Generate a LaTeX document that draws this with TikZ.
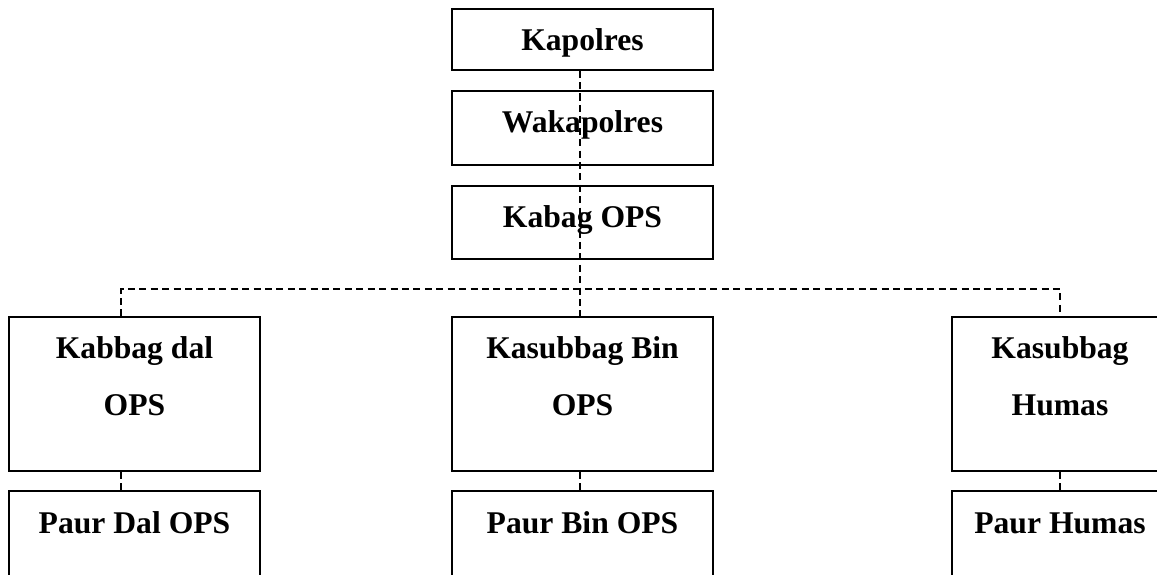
\documentclass[tikz,border=0pt]{standalone}
\usepackage{fontspec}
\setmainfont{Liberation Serif}

\begin{document}
\begin{tikzpicture}[x=0.02cm,y=-0.02cm,
    unitbox/.style={draw,line width=0.75pt,inner sep=0pt},
    lbl/.style={font=\fontsize{18}{32.4}\selectfont\bfseries,align=center,anchor=base,inner sep=0pt},
    link/.style={line width=0.75pt,dash pattern=on 4pt off 2.5pt}]
    \useasboundingbox (0,0) rectangle (1157,575);
    \clip (0,0) rectangle (1157,575);

    % pimpinan
    \node[unitbox,minimum width=5.22cm,minimum height=1.22cm] (kapolres) at (582.5,39.5) {};
    \node[unitbox,minimum width=5.22cm,minimum height=1.48cm] (waka) at (582.5,128) {};
    \node[unitbox,minimum width=5.22cm,minimum height=1.46cm] (kabag) at (582.5,222.5) {};

    % kasubbag
    \node[unitbox,minimum width=5.02cm,minimum height=3.08cm] (kabbag) at (134.5,394) {};
    \node[unitbox,minimum width=5.22cm,minimum height=3.08cm] (kasbin) at (582.5,394) {};
    \node[unitbox,minimum width=4.32cm,minimum height=3.08cm] (kashumas) at (1060,394) {};

    % paur
    \node[unitbox,minimum width=5.02cm,minimum height=2.4cm] (paurdal) at (134.5,551) {};
    \node[unitbox,minimum width=5.22cm,minimum height=2.4cm] (paurbin) at (582.5,551) {};
    \node[unitbox,minimum width=4.32cm,minimum height=2.4cm] (paurhumas) at (1060,551) {};

    % jalur komando
    \coordinate (hub) at (580,289);
    \coordinate (tapL) at (121,289);
    \coordinate (tapR) at (1060,289);
    \draw[link] (kapolres.south -| hub) -- (kasbin.north -| hub);
    \draw[link] (kabbag.north -| tapL) -- (tapL) -- (tapR) -- (kashumas.north -| tapR);
    \draw[link] (kabbag.south -| tapL) -- (paurdal.north -| tapL);
    \draw[link] (kasbin.south -| hub) -- (paurbin.north -| hub);
    \draw[link] (kashumas.south -| tapR) -- (paurhumas.north -| tapR);

    \node[lbl] (t-kapolres) at (582.5,50) {Kapolres};
    \node[lbl] (t-waka) at (582.5,132) {Wakapolres};
    \node[lbl] (t-kabag) at (582.5,227) {Kabag OPS};
    \node[lbl] (t-kabbag) at (134.5,415) {Kabbag dal\\OPS};
    \node[lbl] (t-kasbin) at (582.5,415) {Kasubbag Bin\\OPS};
    \node[lbl] (t-kashumas) at (1060,415) {Kasubbag\\Humas};
    \node[lbl] (t-paurdal) at (134.5,533) {Paur Dal OPS};
    \node[lbl] (t-paurbin) at (582.5,533) {Paur Bin OPS};
    \node[lbl] (t-paurhumas) at (1060,533) {Paur Humas};
\end{tikzpicture}
\end{document}
